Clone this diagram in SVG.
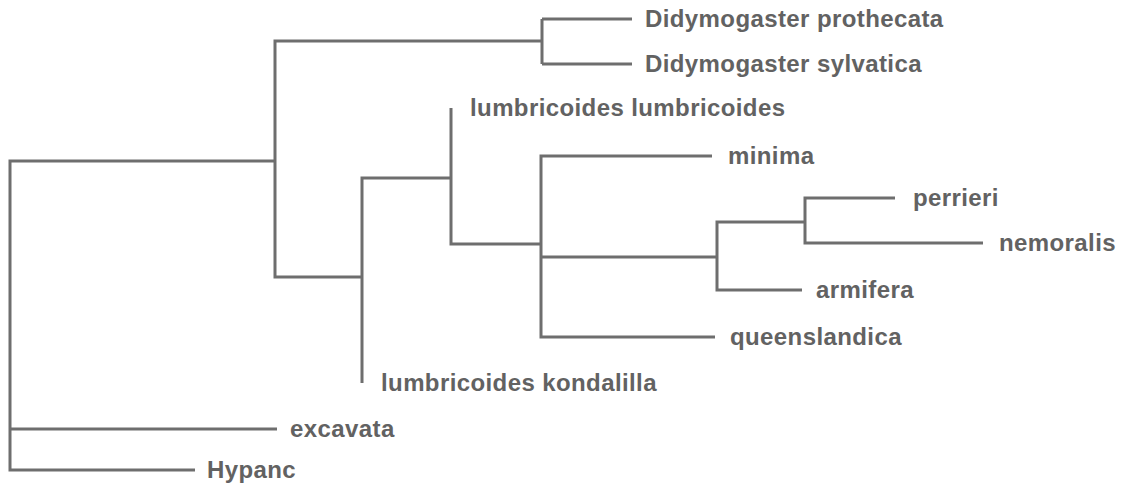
<svg xmlns="http://www.w3.org/2000/svg" width="1130" height="488" viewBox="0 0 1130 488">
<style>
.e{fill:none;stroke:#6e6e6e;stroke-width:3;stroke-linecap:butt;stroke-linejoin:miter}
.t{font-family:"Liberation Sans",Arial,sans-serif;font-size:24px;font-weight:bold;fill:#626262;letter-spacing:0.4px}
</style>
<rect width="1130" height="488" fill="#ffffff"/>
<g id="connectors">
<path class="e" d="M275,161 H10 V470 H195 M10,429 H277"/>
<path class="e" d="M362,277 H275 V41 H542 M542,19 V64 M542,19 H632 M542,64 H632"/>
<path class="e" d="M451,178 H362 V383"/>
<path class="e" d="M541,244 H451 V108"/>
<path class="e" d="M717,257 H541 V156 H712 M541,257 V337 H715"/>
<path class="e" d="M805,222 H717 V290 H802"/>
<path class="e" d="M895,198 H805 V243 H983"/>
</g>
<g id="node-prothecata"><text class="t" x="645" y="27">Didymogaster prothecata</text></g>
<g id="node-sylvatica"><text class="t" x="645" y="72">Didymogaster sylvatica</text></g>
<g id="node-lumbricoides"><text class="t" x="470" y="116">lumbricoides lumbricoides</text></g>
<g id="node-minima"><text class="t" x="728" y="164">minima</text></g>
<g id="node-perrieri"><text class="t" x="913" y="206">perrieri</text></g>
<g id="node-nemoralis"><text class="t" x="999" y="251">nemoralis</text></g>
<g id="node-armifera"><text class="t" x="816" y="298">armifera</text></g>
<g id="node-queenslandica"><text class="t" x="730" y="345">queenslandica</text></g>
<g id="node-kondalilla"><text class="t" x="381" y="391">lumbricoides kondalilla</text></g>
<g id="node-excavata"><text class="t" x="290" y="437">excavata</text></g>
<g id="node-hypanc"><text class="t" x="207" y="478">Hypanc</text></g>
</svg>
